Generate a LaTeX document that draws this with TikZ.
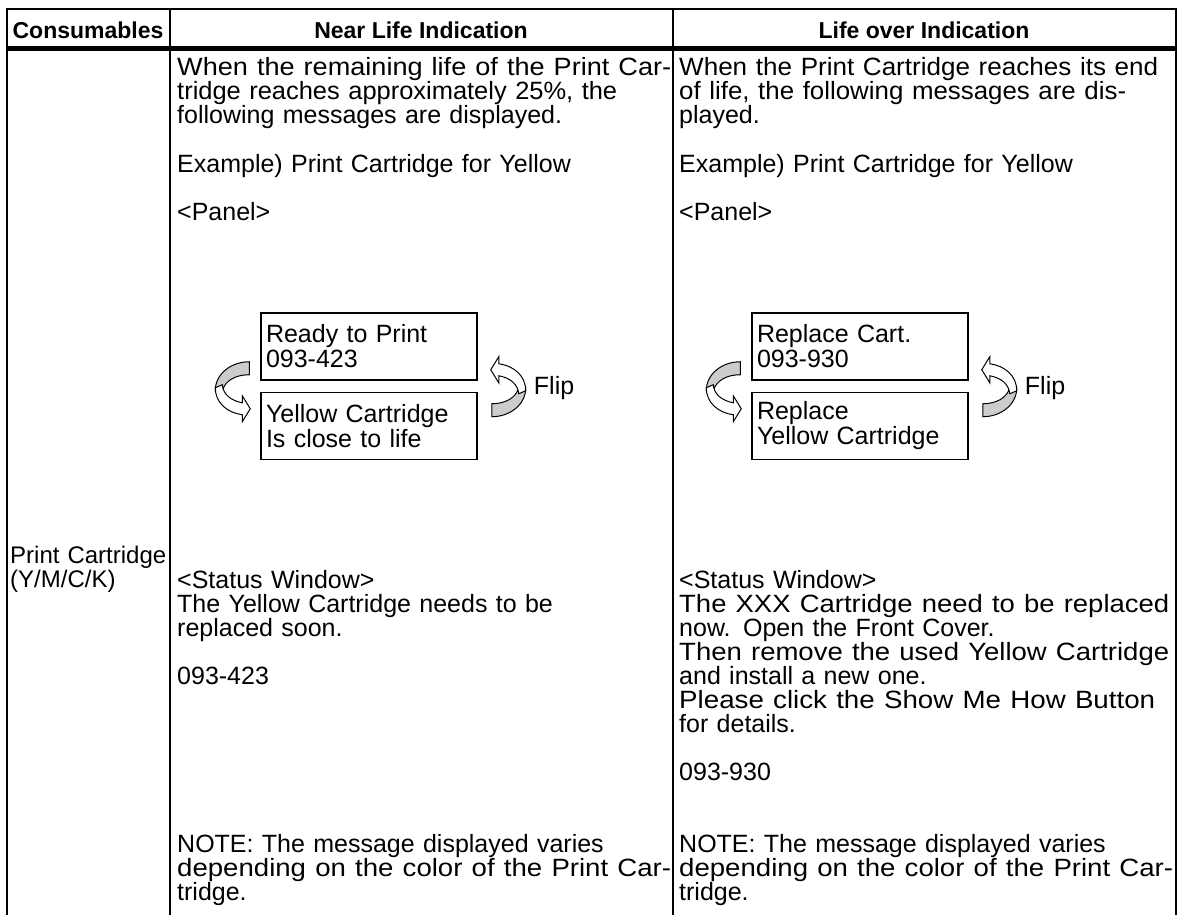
\documentclass[tikz,border=0pt]{standalone}
\usepackage{fontspec}
\setmainfont{Liberation Sans}
\usetikzlibrary{positioning}
\tolerance=10000
\hbadness=10000
% lines that the reference sets wider than their natural width
\newcommand{\fitline}[2]{\resizebox{#1}{\height}{#2}}

\tikzset{fliparrow/.pic={
    \filldraw[fill=gray!40, line width=1pt] (0,-29) -- (0,-16) .. controls (-14,-16) and (-24,-10) .. (-27,0)
        -- (-34,0) .. controls (-34,-17) and (-18,-29) .. (0,-29) -- cycle;
    \filldraw[fill=white, line width=1pt] (-34,-3) .. controls (-34,12) and (-22,22) .. (-7,24)
        -- (-7,31) -- (1,18) -- (-7,5) -- (-7,12) .. controls (-18,10) and (-26,4) .. (-27,-6) -- cycle;
}}

\begin{document}
\begin{tikzpicture}[x=1pt, y=-1pt,
            every node/.style={
            font=\fontsize{25}{24}\selectfont,
            inner sep=0pt},
            head/.style={font=\fontsize{23}{24}\selectfont\bfseries},
            body/.style={anchor=base west, text width=494pt, align=left},
            panel/.style={
            draw,
            line width=1.5pt,
            font=\fontsize{25}{25}\selectfont,
            minimum width=216pt,
            minimum height=67pt,
            text width=206pt,
            inner sep=5pt,
            align=left},
            rule/.style={line width=2.5pt}]
            \useasboundingbox (0,0) rectangle (1183,915);
            % table
            \draw[line width=2pt] (6,9) -- (1177,9);
            \draw[line width=5pt] (6,49) -- (1177,49);
            \foreach \x in {7,170,673,1176}
                \draw[rule] (\x,8) -- (\x,915);
            % headings
            \node[head] (hcons) at (88,30) {Consumables};
            \node[head] (hnear) at (421,30) {Near Life Indication};
            \node[head] (hover) at (924,30) {Life over Indication};
            \node[anchor=base west, text width=158pt, align=left, font=\fontsize{24}{24}\selectfont] (item) at (10,563) {Print Cartridge\\(Y/M/C/K)};
            % near life
            \node[body] (nearintro) at (177,76) {\fitline{494pt}{When the remaining life of the Print Car-}\\\fitline{440pt}{tridge reaches approximately 25\%, the}\\following messages are displayed.};
            \node[body] (nearex) at (177,172) {Example) Print Cartridge for Yellow};
            \node[body] (nearpanel) at (177,220) {<Panel>};
            \node[panel] (near1) at (369,346.5) {Ready to Print\\093-423};
            \node[panel, below=11pt of near1] (near2) {Yellow Cartridge\\Is close to life};
            \pic[shift={(-11,10)}] at (near1.south west) {fliparrow};
            \pic[rotate=180] at ([shift={(14,7)}]near1.south east) {fliparrow};
            \node[anchor=west] (nearflip) at ([shift={(56,7)}]near1.south east) {Flip};
            \node[body] (nearstatus) at (177,588) {<Status Window>\\The Yellow Cartridge needs to be\\replaced soon.};
            \node[body] (nearcode) at (177,684) {093-423};
            \node[body] (nearnote) at (177,852) {NOTE: The message displayed varies\\\fitline{494pt}{depending on the color of the Print Car-}\\tridge.};
            % life over
            \node[body] (overintro) at (679,76) {\fitline{479pt}{When the Print Cartridge reaches its end}\\\fitline{447pt}{of life, the following messages are dis-}\\played.};
            \node[body] (overex) at (679,172) {Example) Print Cartridge for Yellow};
            \node[body] (overpanel) at (679,220) {<Panel>};
            \node[panel] (over1) at (860,346.5) {Replace Cart.\\093-930};
            \node[panel, below=11pt of over1] (over2) {Replace\\Yellow Cartridge};
            \pic[shift={(-11,10)}] at (over1.south west) {fliparrow};
            \pic[rotate=180] at ([shift={(14,7)}]over1.south east) {fliparrow};
            \node[anchor=west] (overflip) at ([shift={(56,7)}]over1.south east) {Flip};
            \node[body] (overstatus) at (679,588) {<Status Window>\\\fitline{490pt}{The XXX Cartridge need to be replaced}\\now. Open the Front Cover.\\\fitline{490pt}{Then remove the used Yellow Cartridge}\\and install a new one.\\\fitline{476pt}{Please click the Show Me How Button}\\for details.};
            \node[body] (overcode) at (679,780) {093-930};
            \node[body] (overnote) at (679,852) {NOTE: The message displayed varies\\\fitline{494pt}{depending on the color of the Print Car-}\\tridge.};
        \end{tikzpicture}
\end{document}
